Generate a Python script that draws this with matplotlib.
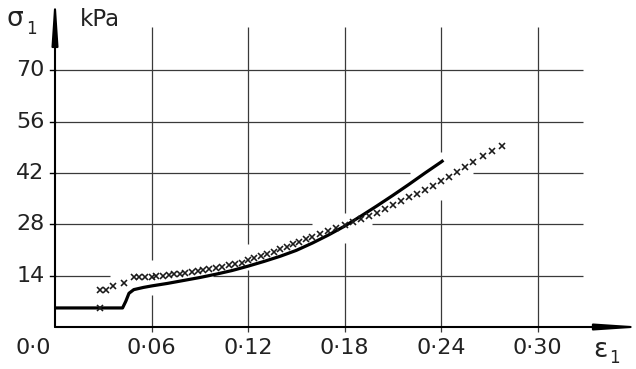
from matplotlib import pyplot as plt

# measured curve (solid line): strain, stress in kPa
line_strain = [0.000, 0.042, 0.044, 0.046, 0.049, 0.055, 0.060, 0.070, 0.080,
               0.090, 0.100, 0.110, 0.120, 0.130, 0.140, 0.150, 0.160, 0.170,
               0.180, 0.190, 0.200, 0.210, 0.220, 0.230, 0.240, 0.2415]
line_stress = [5.2, 5.2, 7.0, 9.2, 10.2, 10.8, 11.2, 11.9, 12.7,
               13.5, 14.4, 15.4, 16.6, 17.9, 19.3, 20.9, 22.9, 25.1,
               27.5, 30.2, 33.0, 35.9, 38.9, 42.0, 45.0, 45.5]

# computed points (crosses)
pts_strain = [0.028, 0.028, 0.0315, 0.036, 0.043, 0.049, 0.052, 0.056, 0.060,
              0.063, 0.067, 0.071, 0.074, 0.078, 0.081, 0.085, 0.089, 0.092,
              0.096, 0.100, 0.104, 0.108, 0.112, 0.116, 0.120, 0.124, 0.128,
              0.132, 0.136, 0.140, 0.144, 0.148, 0.152, 0.156, 0.160, 0.165,
              0.170, 0.175, 0.180, 0.185, 0.190, 0.195, 0.200, 0.205, 0.210,
              0.215, 0.220, 0.225, 0.230, 0.235, 0.240, 0.245, 0.250, 0.255,
              0.260, 0.266, 0.272, 0.278]
pts_stress = [5.2, 10.0, 10.0, 11.3, 12.1, 13.6, 13.7, 13.7, 13.7,
              13.9, 14.0, 14.2, 14.4, 14.5, 14.8, 15.0, 15.3, 15.6,
              15.8, 16.1, 16.4, 16.8, 17.2, 17.6, 18.2, 18.8, 19.4,
              20.0, 20.6, 21.2, 21.9, 22.6, 23.3, 24.0, 24.6, 25.3,
              26.1, 26.9, 27.8, 28.6, 29.5, 30.3, 31.2, 32.2, 33.3,
              34.4, 35.4, 36.3, 37.3, 38.5, 39.8, 41.0, 42.4, 43.7,
              44.9, 46.6, 47.9, 49.4]

x_ticks = [0.06, 0.12, 0.18, 0.24, 0.30]
x_labels = ['0·06', '0·12', '0·18', '0·24', '0·30']
y_ticks = [14, 28, 42, 56, 70]
y_labels = ['14', '28', '42', '56', '70']

XMAX, YMAX = 0.36, 86.5
GRID_X_END, GRID_Y_END = 0.328, 81.9

# grid lines are broken where the curves pass through
h_gaps = {14: (0.034, 0.098), 28: (0.160, 0.197), 42: (0.221, 0.260)}
v_gaps = {0.06: (8.7, 18.3), 0.12: (15.6, 22.6), 0.18: (23.0, 31.0),
          0.24: (34.7, 47.8)}

fig = plt.figure(figsize=(6.36, 3.69), dpi=100)
ax = fig.add_axes([55 / 636, 42 / 369, 579 / 636, 317 / 369])
ax.set_xlim(0, XMAX)
ax.set_ylim(0, YMAX)
ax.axis('off')

grid = dict(color='#3a3a3a', lw=0.9, solid_capstyle='butt')
for y in y_ticks:
    gap = h_gaps.get(y)
    if gap:
        ax.plot([0, gap[0]], [y, y], **grid)
        ax.plot([gap[1], GRID_X_END], [y, y], **grid)
    else:
        ax.plot([0, GRID_X_END], [y, y], **grid)
    ax.plot([-0.003, 0], [y, y], color='k', lw=1.0, clip_on=False)
for x in x_ticks:
    gap = v_gaps.get(x)
    if gap:
        ax.plot([x, x], [-1.4, gap[0]], **grid, clip_on=False)
        ax.plot([x, x], [gap[1], GRID_Y_END], **grid)
    else:
        ax.plot([x, x], [-1.4, GRID_Y_END], **grid, clip_on=False)

# axes with long narrow arrow heads
arrow = dict(arrowstyle='-|>,head_length=2.7,head_width=0.18',
             color='k', lw=1.5, shrinkA=0, shrinkB=0, mutation_scale=10)
ax.annotate('', xy=(XMAX + 0.0075, 0), xytext=(0, 0), arrowprops=arrow,
            annotation_clip=False)
ax.annotate('', xy=(0, YMAX + 4.4), xytext=(0, 0), arrowprops=arrow,
            annotation_clip=False)

# data
ax.plot(line_strain, line_stress, color='k', lw=2.3, solid_capstyle='butt',
        solid_joinstyle='round')
ax.plot(pts_strain, pts_stress, linestyle='None', marker='x', ms=4.8,
        mew=1.15, color='#1a1a1a')

# tick labels
fs = 16
for x, lab in zip(x_ticks, x_labels):
    ax.text(x, -5.7, lab, ha='center', va='center', fontsize=fs, color='#222')
ax.text(-0.0135, -5.7, '0·0', ha='center', va='center', fontsize=fs,
        color='#222')
for y, lab in zip(y_ticks, y_labels):
    ax.text(-0.0065, y, lab, ha='right', va='center', fontsize=fs,
            color='#222')

# axis titles
fig.text(7 / 636, 1 - 19 / 369, 'σ', fontsize=19, ha='left', va='center',
         color='#222')
fig.text(26 / 636, 1 - 29 / 369, '1', fontsize=12, ha='left', va='center',
         color='#222')
fig.text(80 / 636, 1 - 20 / 369, 'kPa', fontsize=16.5, ha='left',
         va='center', color='#222')
fig.text(593 / 636, 1 - 350 / 369, 'ε', fontsize=19, ha='left',
         va='center', color='#222')
fig.text(609 / 636, 1 - 358 / 369, '1', fontsize=12, ha='left',
         va='center', color='#222')

fig.savefig('out.png', dpi=100, facecolor='white')
